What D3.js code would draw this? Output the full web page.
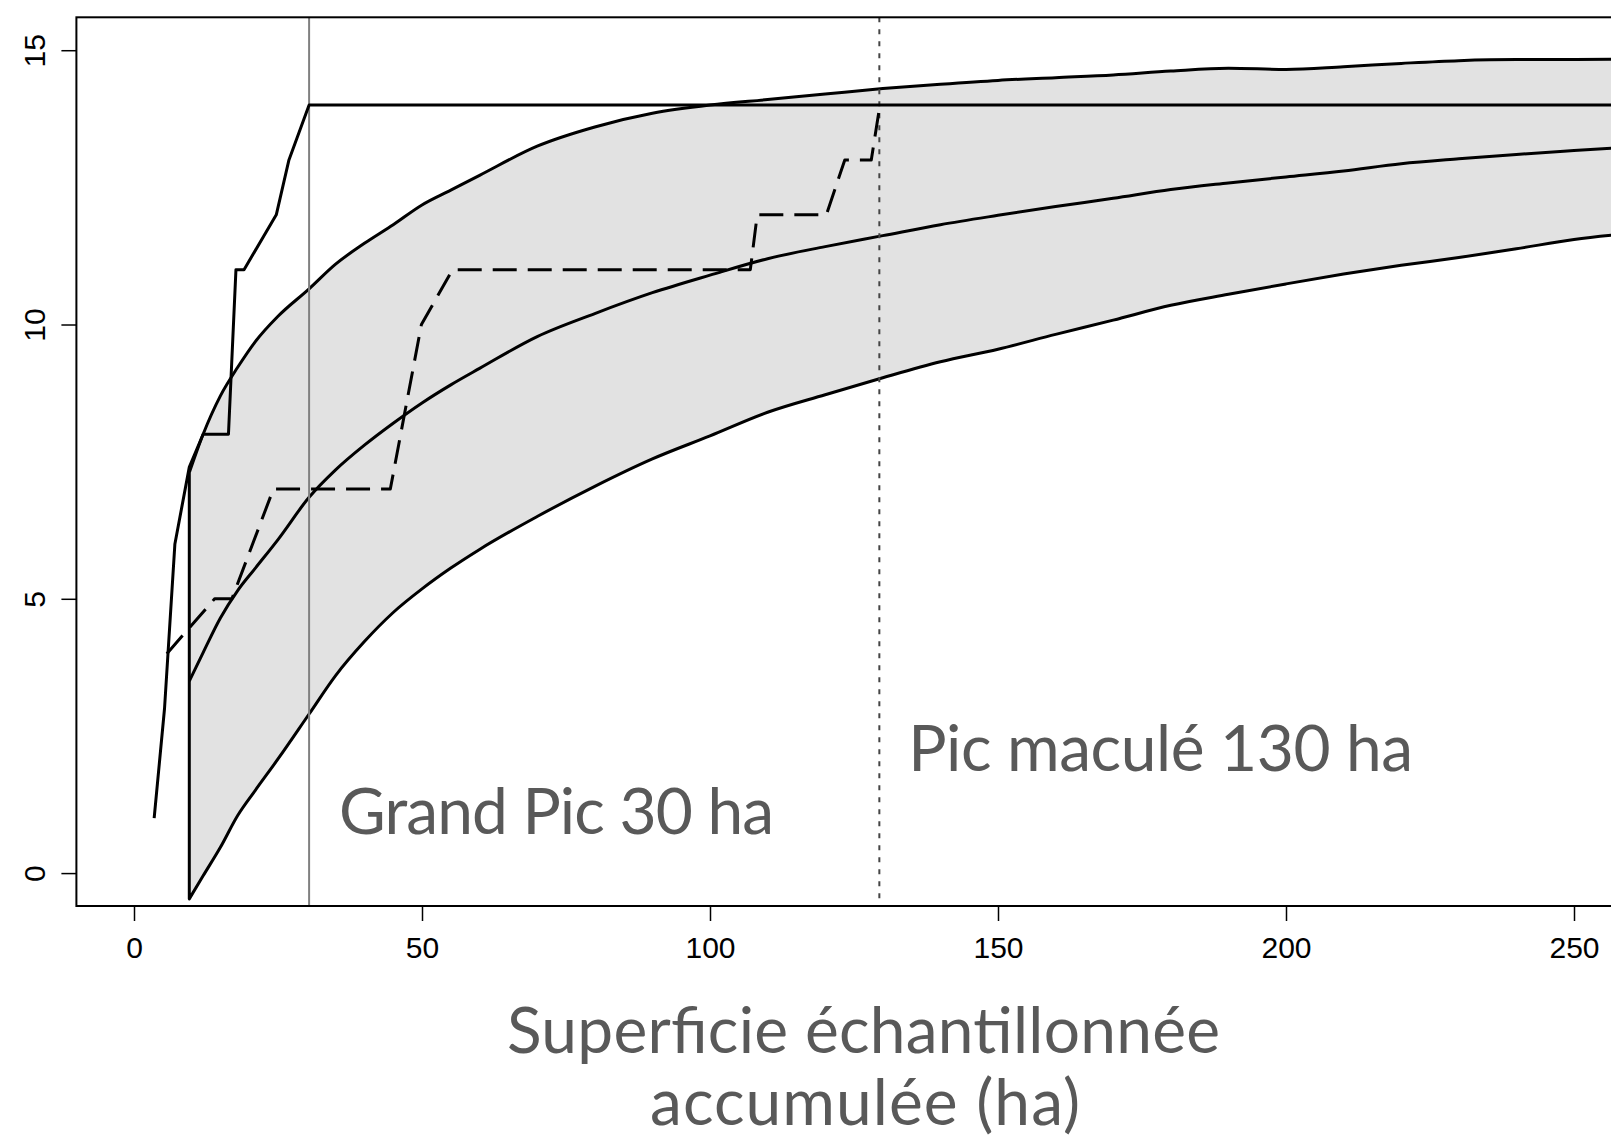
<!DOCTYPE html>
<html><head><meta charset="utf-8">
<script src="https://cdn.jsdelivr.net/npm/d3@7"></script>
<style>body{margin:0;background:#fff;overflow:hidden;} svg{display:block;}</style>
</head><body>
<svg id="chart" width="1611" height="1146"></svg>
<script>
// ---- data ----
const bandX  = [9.6, 12, 15, 18, 21, 25, 30.4, 35, 40, 45, 50, 55, 60, 70, 80, 90, 100, 110, 120, 130, 140, 150, 160, 170, 180, 190, 200, 210, 220, 230, 240, 250, 262];
const upperY = [7.3, 8.0, 8.7, 9.22, 9.68, 10.15, 10.65, 11.1, 11.48, 11.82, 12.18, 12.45, 12.72, 13.25, 13.6, 13.85, 14.0, 14.1, 14.2, 14.3, 14.38, 14.45, 14.5, 14.55, 14.62, 14.67, 14.65, 14.7, 14.76, 14.81, 14.83, 14.83, 14.84];
const meanY  = [3.5, 4.02, 4.65, 5.15, 5.55, 6.08, 6.85, 7.35, 7.8, 8.2, 8.57, 8.9, 9.2, 9.78, 10.2, 10.58, 10.9, 11.2, 11.42, 11.62, 11.82, 11.99, 12.15, 12.3, 12.46, 12.58, 12.69, 12.8, 12.93, 13.02, 13.1, 13.17, 13.25];
const lowerY = [-0.47, -0.05, 0.47, 1.05, 1.5, 2.08, 2.9, 3.6, 4.22, 4.75, 5.18, 5.56, 5.9, 6.5, 7.05, 7.55, 7.97, 8.4, 8.72, 9.03, 9.32, 9.55, 9.82, 10.08, 10.35, 10.55, 10.74, 10.92, 11.08, 11.22, 11.38, 11.55, 11.68];

const grandPicX = [3.5, 5.3, 7.1, 9.6, 12, 16.4, 17.7, 19.1, 24.7, 26.9, 30.4, 262];
const grandPicY = [1, 3, 6, 7.4, 8, 8, 11, 11, 12, 13, 14, 14];

const picMaculeX = [5.7, 14, 17, 24.2, 44.5, 49.9, 55.3, 107, 108.2, 120.2, 123.4, 128, 129.5];
const picMaculeY = [4, 5, 5, 7, 7, 10, 11, 11, 12, 12, 13, 13, 14];

const markerGrandPic = 30.4;
const markerPicMacule = 129.4;

const xTicks = [0, 50, 100, 150, 200, 250];
const yTicks = [0, 5, 10, 15];
const annotations = ["Grand Pic 30 ha", "Pic maculé 130 ha"];
const xTitle = ["Superficie échantillonnée", "accumulée (ha)"];

// ---- drawing ----
const svg = d3.select("#chart");
const x = d3.scaleLinear().domain([-10, 260]).range([76.4, 1631.6]);
const y = d3.scaleLinear().domain([-0.6, 15.6]).range([906, 17.3]);

svg.append("defs").append("clipPath").attr("id", "plotclip")
  .append("rect")
  .attr("x", x(-10)).attr("y", y(15.6))
  .attr("width", x(260) - x(-10)).attr("height", y(-0.6) - y(15.6));

const plot = svg.append("g").attr("clip-path", "url(#plotclip)");

const band = bandX.map((v, i) => ({x: v, lo: lowerY[i], hi: upperY[i], m: meanY[i]}));

plot.append("path").datum(band)
  .attr("d", d3.area().x(d => x(d.x)).y0(d => y(d.lo)).y1(d => y(d.hi)).curve(d3.curveMonotoneX))
  .attr("fill", "#e2e2e2").attr("stroke", "#000").attr("stroke-width", 3).attr("stroke-linejoin", "round");

plot.append("path").datum(band)
  .attr("d", d3.line().x(d => x(d.x)).y(d => y(d.m)).curve(d3.curveMonotoneX))
  .attr("fill", "none").attr("stroke", "#000").attr("stroke-width", 3);

// vertical markers
plot.append("line")
  .attr("x1", x(markerGrandPic)).attr("x2", x(markerGrandPic))
  .attr("y1", y(15.6)).attr("y2", y(-0.6))
  .attr("stroke", "#808080").attr("stroke-width", 2);
plot.append("line")
  .attr("x1", x(markerPicMacule)).attr("x2", x(markerPicMacule))
  .attr("y1", y(15.6)).attr("y2", y(-0.6))
  .attr("stroke", "#444").attr("stroke-width", 2).attr("stroke-dasharray", "5,7");

const lineGen = d3.line().x(d => x(d[0])).y(d => y(d[1]));

plot.append("path").datum(picMaculeX.map((v, i) => [v, picMaculeY[i]]))
  .attr("d", lineGen).attr("fill", "none").attr("stroke", "#000")
  .attr("stroke-width", 3).attr("stroke-dasharray", "24,11").attr("stroke-linejoin", "round");

plot.append("path").datum(grandPicX.map((v, i) => [v, grandPicY[i]]))
  .attr("d", lineGen).attr("fill", "none").attr("stroke", "#000")
  .attr("stroke-width", 3).attr("stroke-linejoin", "round");

// box
svg.append("rect")
  .attr("x", x(-10)).attr("y", y(15.6))
  .attr("width", x(260) - x(-10)).attr("height", y(-0.6) - y(15.6))
  .attr("fill", "none").attr("stroke", "#000").attr("stroke-width", 2);

// axes
const xAxis = svg.append("g").attr("transform", `translate(0,${y(-0.6)})`)
  .call(d3.axisBottom(x).tickValues(xTicks).tickSize(15).tickPadding(16).tickFormat(d3.format("d")));
xAxis.select(".domain").remove();
xAxis.selectAll(".tick line").attr("stroke", "#000").attr("stroke-width", 1.5);
xAxis.selectAll(".tick text").attr("font-family", "'Liberation Sans', Arial, sans-serif")
  .attr("font-size", 30).attr("fill", "#000");

const yAxis = svg.append("g").attr("transform", `translate(${x(-10)},0)`)
  .call(d3.axisLeft(y).tickValues(yTicks).tickSize(15).tickFormat(d3.format("d")));
yAxis.select(".domain").remove();
yAxis.selectAll(".tick line").attr("stroke", "#000").attr("stroke-width", 1.5);
yAxis.selectAll(".tick text")
  .attr("font-family", "'Liberation Sans', Arial, sans-serif")
  .attr("font-size", 30).attr("fill", "#000")
  .attr("x", null).attr("dy", null)
  .attr("text-anchor", "middle")
  .attr("transform", `translate(${44.5 - x(-10)},0) rotate(-90)`);

// annotations
const txtFont = "Lato, 'Open Sans', sans-serif";
svg.append("text").text(annotations[0])
  .attr("x", x(35.6)).attr("y", y(0.71))
  .attr("font-family", txtFont).attr("font-size", 64).attr("fill", "#595959")
  .attr("textLength", 435);
svg.append("text").text(annotations[1])
  .attr("x", x(134.4)).attr("y", y(1.87))
  .attr("font-family", txtFont).attr("font-size", 64).attr("fill", "#595959")
  .attr("textLength", 505);

svg.append("text").text(xTitle[0])
  .attr("x", 863.5).attr("y", 1053).attr("text-anchor", "middle")
  .attr("font-family", txtFont).attr("font-size", 64).attr("fill", "#595959")
  .attr("textLength", 713);
svg.append("text").text(xTitle[1])
  .attr("x", 865).attr("y", 1125).attr("text-anchor", "middle")
  .attr("font-family", txtFont).attr("font-size", 64).attr("fill", "#595959")
  .attr("textLength", 430);
</script>
</body></html>
